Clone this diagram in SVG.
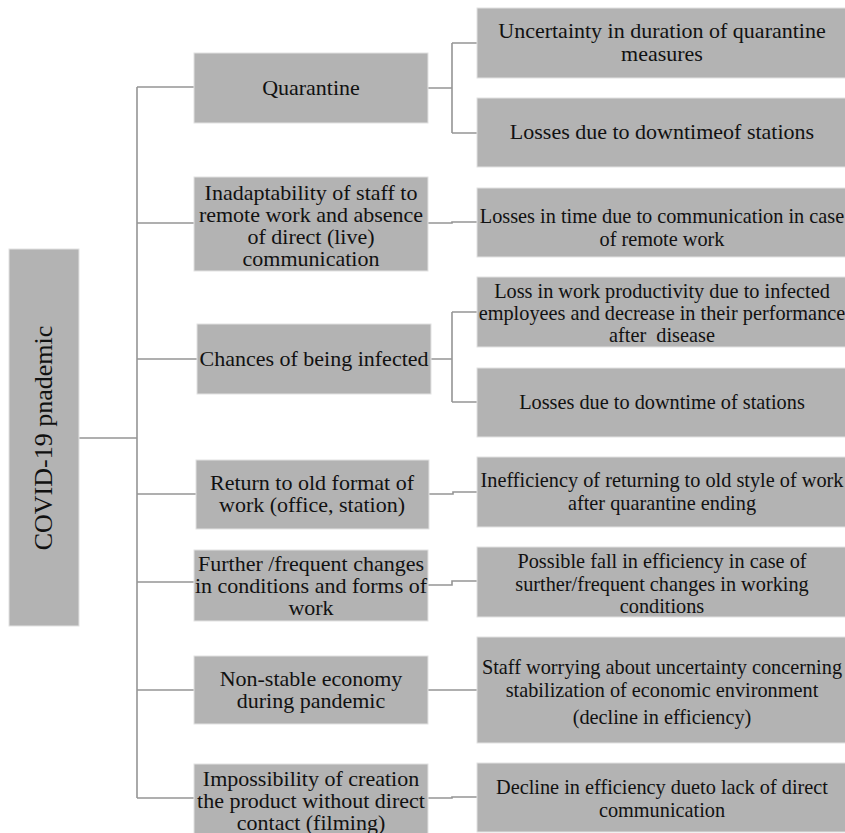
<svg xmlns="http://www.w3.org/2000/svg" width="845" height="833" viewBox="0 0 845 833">
<style>
.box{fill:#b3b3b3;stroke:#e2e2e2;stroke-width:1}
.t{font-family:"Liberation Serif","Times New Roman",serif;font-size:22px;fill:#111;text-anchor:middle}
.s{font-size:20.3px}
.c{fill:none;stroke:#959595;stroke-width:1.6}
</style>
<rect x="0" y="0" width="845" height="833" fill="#ffffff"/>
<g id="connectors">
<path class="c" d="M79 438H137M137 87V798M137 87H194M137 223H194M137 359H197M137 494H196M137 582H194M137 690H194M137 798H194"/>
<path class="c" d="M428 88H452M452 43V133M452 43H477M452 133H477"/>
<path class="c" d="M428 223H452V222H477"/>
<path class="c" d="M431 359H452M452 312V402M452 312H477M452 402H477"/>
<path class="c" d="M429 494H453V492H477"/>
<path class="c" d="M428 585H452V581H477"/>
<path class="c" d="M428 690H477"/>
<path class="c" d="M428 798H452V797H477"/>
</g>
<g id="root">
<rect class="box" x="9" y="249" width="70" height="377"/>
<text class="t" style="font-size:26px" transform="translate(52,438) rotate(-90)" x="0" y="0">COVID-19 pnademic</text>
</g>
<g id="quarantine">
<rect class="box" x="194" y="53" width="234" height="70"/>
<text class="t" x="311" y="95">Quarantine</text>
</g>
<g id="uncertainty">
<rect class="box" x="477" y="8" width="380" height="70"/>
<text class="t" x="662" y="38">Uncertainty in duration of quarantine</text>
<text class="t" x="662" y="61">measures</text>
</g>
<g id="losses-downtimeof">
<rect class="box" x="477" y="98" width="380" height="69"/>
<text class="t" x="662" y="139">Losses due to downtimeof stations</text>
</g>
<g id="inadaptability">
<rect class="box" x="194" y="177" width="234" height="94"/>
<text class="t" x="311" y="200">Inadaptability of staff to</text>
<text class="t" x="311" y="222">remote work and absence</text>
<text class="t" x="311" y="244">of direct (live)</text>
<text class="t" x="311" y="266">communication</text>
</g>
<g id="losses-time">
<rect class="box" x="477" y="188" width="380" height="69"/>
<text class="t s" x="662" y="223">Losses in time due to communication in case</text>
<text class="t s" x="662" y="246">of remote work</text>
</g>
<g id="chances">
<rect class="box" x="197" y="324" width="234" height="70"/>
<text class="t" x="314" y="366">Chances of being infected</text>
</g>
<g id="loss-productivity">
<rect class="box" x="477" y="277" width="380" height="70"/>
<text class="t s" x="662" y="298">Loss in work productivity due to infected</text>
<text class="t s" x="662" y="320">employees and decrease in their performance</text>
<text class="t s" x="662" y="342" xml:space="preserve">after  disease</text>
</g>
<g id="losses-downtime">
<rect class="box" x="477" y="368" width="380" height="69"/>
<text class="t s" x="662" y="409">Losses due to downtime of stations</text>
</g>
<g id="return">
<rect class="box" x="196" y="460" width="233" height="69"/>
<text class="t" x="312" y="490">Return to old format of</text>
<text class="t" x="312" y="512">work (office, station)</text>
</g>
<g id="inefficiency">
<rect class="box" x="477" y="457" width="380" height="70"/>
<text class="t s" x="662" y="487">Inefficiency of returning to old style of work</text>
<text class="t s" x="662" y="510">after quarantine ending</text>
</g>
<g id="further">
<rect class="box" x="194" y="550" width="234" height="71"/>
<text class="t" x="311" y="571">Further /frequent changes</text>
<text class="t" x="311" y="593">in conditions and forms of</text>
<text class="t" x="311" y="615">work</text>
</g>
<g id="possible">
<rect class="box" x="477" y="547" width="380" height="70"/>
<text class="t s" x="662" y="568">Possible fall in efficiency in case of</text>
<text class="t s" x="662" y="591">surther/frequent changes in working</text>
<text class="t s" x="662" y="613">conditions</text>
</g>
<g id="nonstable">
<rect class="box" x="194" y="656" width="234" height="68"/>
<text class="t" x="311" y="686">Non-stable economy</text>
<text class="t" x="311" y="708">during pandemic</text>
</g>
<g id="staff">
<rect class="box" x="477" y="637" width="380" height="106"/>
<text class="t s" x="662" y="674">Staff worrying about uncertainty concerning</text>
<text class="t s" x="662" y="697">stabilization of economic environment</text>
<text class="t s" x="662" y="724">(decline in efficiency)</text>
</g>
<g id="impossibility">
<rect class="box" x="194" y="764" width="234" height="72"/>
<text class="t" x="311" y="786">Impossibility of creation</text>
<text class="t" x="311" y="808">the product without direct</text>
<text class="t" x="311" y="830">contact (filming)</text>
</g>
<g id="decline">
<rect class="box" x="477" y="763" width="380" height="69"/>
<text class="t s" x="662" y="794">Decline in efficiency dueto lack of direct</text>
<text class="t s" x="662" y="817">communication</text>
</g>
</svg>
